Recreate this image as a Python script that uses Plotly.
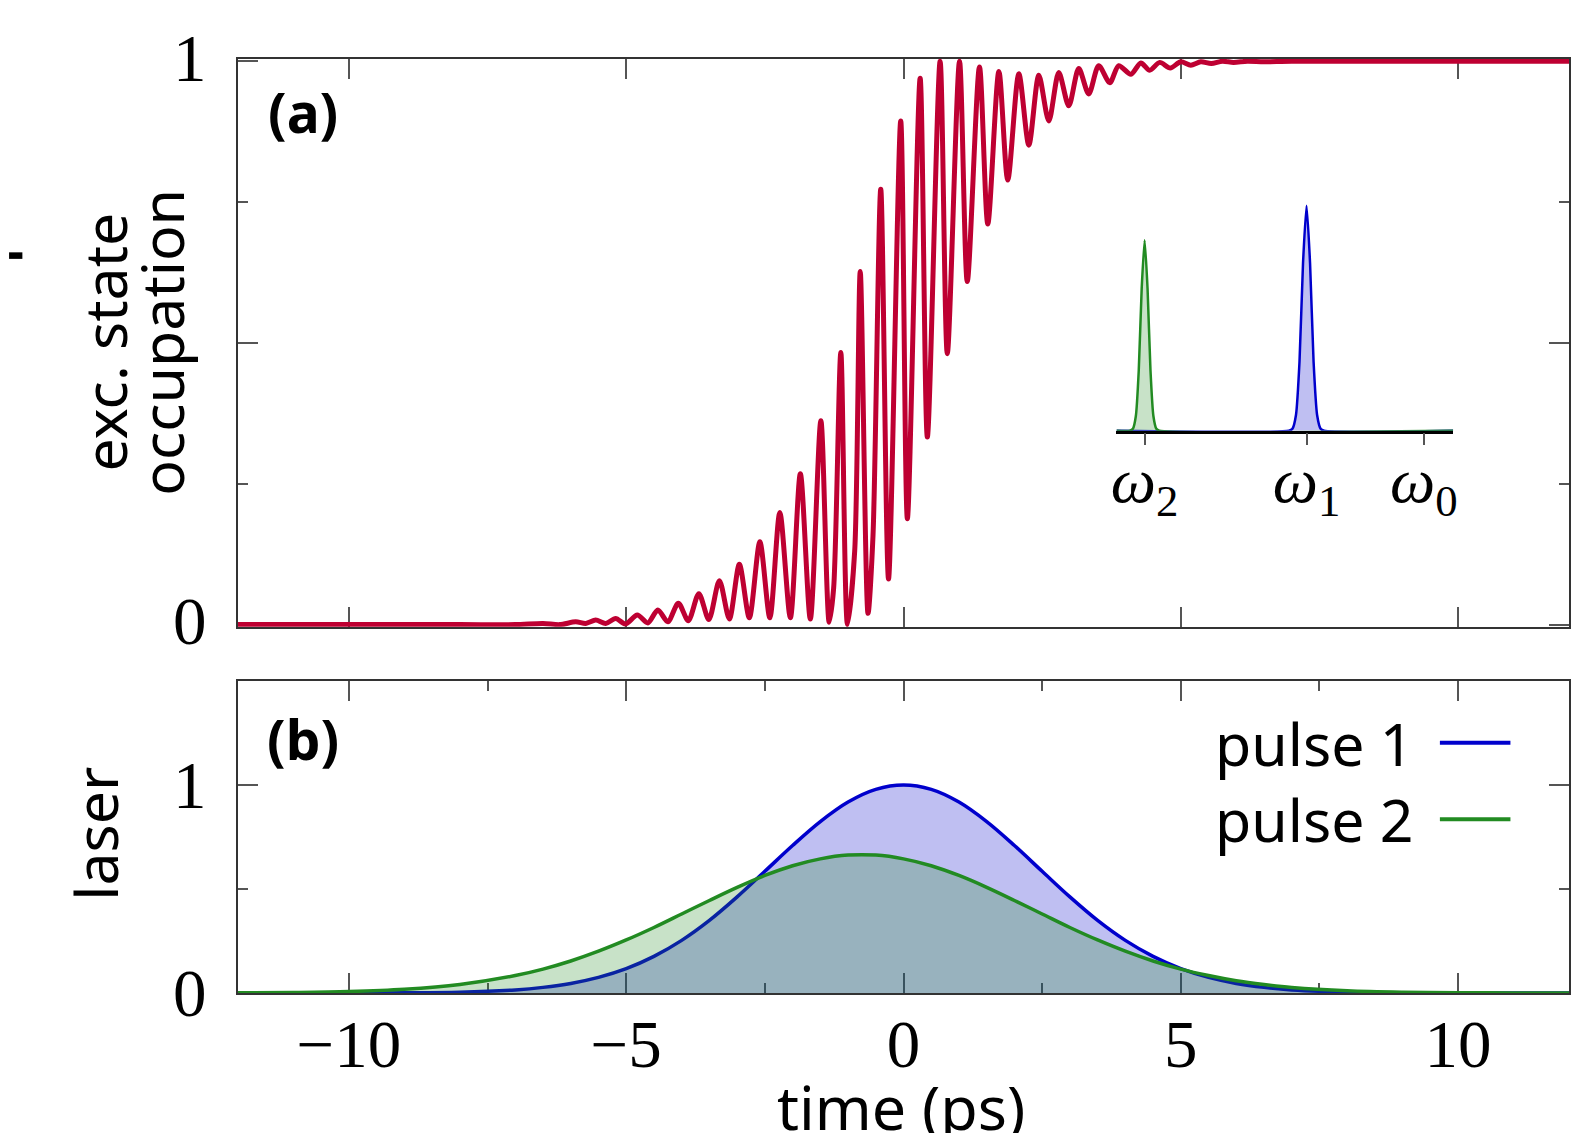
import plotly.graph_objects as go

# ---------------- data ----------------
# panel (a): excited state occupation (peaks / troughs)
occ_t = [-12.0, -8.0, -7.0, -6.5, -6.2, -5.91, -5.73, -5.55, -5.37, -5.19, -5.01,
         -4.80, -4.61, -4.43, -4.25, -4.06, -3.88, -3.69, -3.51, -3.32, -3.14,
         -2.96, -2.78, -2.59, -2.41, -2.23, -2.04, -1.86, -1.68, -1.49, -1.34,
         -1.26, -1.13, -1.01, -0.88, -0.78, -0.64, -0.55, -0.41, -0.27, -0.05,
         0.07, 0.30, 0.43, 0.66, 0.79, 1.01, 1.15, 1.37, 1.52, 1.72, 1.88, 2.08,
         2.26, 2.44, 2.62, 2.80, 2.98, 3.16, 3.34, 3.52, 3.72, 3.88, 4.10, 4.28,
         4.44, 4.62, 4.81, 5.0, 5.18, 5.36, 5.55, 5.75, 5.95, 6.2, 6.5, 7.0, 12.0]
occ_v = [0.0, 0.0, 0.0, 0.002, 0.0, 0.005, 0.002, 0.008, 0.002, 0.011, 0.001,
         0.017, 0.003, 0.026, 0.005, 0.038, 0.007, 0.055, 0.009, 0.078, 0.010,
         0.107, 0.012, 0.147, 0.012, 0.199, 0.012, 0.268, 0.010, 0.362, 0.004,
         0.064, 0.483, 0.0, 0.131, 0.627, 0.020, 0.158, 0.773, 0.081, 0.894,
         0.188, 0.970, 0.333, 1.0, 0.481, 1.0, 0.609, 0.990, 0.711, 0.982, 0.789, 0.978,
         0.851, 0.975, 0.894, 0.980, 0.921, 0.987, 0.942, 0.992, 0.962, 0.992, 0.977, 0.997,
         0.984, 0.998, 0.988, 0.999, 0.993, 0.999, 0.996, 1.0, 0.998, 1.0, 0.999, 1.0, 1.0]

# panel (b): laser pulse envelopes
pulse_t = [-12, -11, -10, -9, -8, -7, -6.5, -6, -5.5, -5, -4.5, -4, -3.5, -3, -2.5, -2, -1.5,
           -1, -0.5, 0, 0.5, 1, 1.5, 2, 2.5, 3, 3.5, 4, 4.5, 5, 5.5, 6, 6.5, 7, 8, 9, 10, 11, 12]
pulse1 = [0.0, 0.0, 0.0002, 0.001, 0.004, 0.015, 0.027, 0.046, 0.075, 0.117, 0.176, 0.253, 0.349,
          0.462, 0.585, 0.709, 0.824, 0.918, 0.979, 1.0, 0.979, 0.918, 0.824, 0.709, 0.585, 0.462,
          0.349, 0.253, 0.176, 0.117, 0.075, 0.046, 0.027, 0.015, 0.004, 0.001, 0.0002, 0.0, 0.0]
pulse2 = [0.0008, 0.0025, 0.007, 0.018, 0.041, 0.084, 0.115, 0.154, 0.201, 0.255, 0.315, 0.380,
          0.445, 0.508, 0.565, 0.612, 0.645, 0.663, 0.663, 0.645, 0.612, 0.565, 0.508, 0.445, 0.380,
          0.315, 0.255, 0.201, 0.154, 0.115, 0.084, 0.059, 0.041, 0.027, 0.011, 0.004, 0.0014, 0.0004, 0.0001]

# inset: spectra (omega in units of omega0 - omega1)
spec2_w = [-2.62, -2.505, -2.48, -2.455, -2.43, -2.405, -2.38, -2.355, -2.33, -2.305, -2.28, -2.255, 0.25]
spec2_v = [0.0, 0.0, 0.008, 0.06, 0.25, 0.59, 0.79, 0.59, 0.25, 0.06, 0.008, 0.0, 0.0]
spec1_w = [-2.62, -1.15, -1.12, -1.09, -1.06, -1.03, -1.0, -0.97, -0.94, -0.91, -0.88, -0.85, 0.25]
spec1_v = [0.0, 0.0, 0.008, 0.065, 0.286, 0.695, 0.934, 0.695, 0.286, 0.065, 0.008, 0.0, 0.0]
inset_ticks = [-2.38, -1.0, 0.0]
inset_labels = ["<i>ω</i><sub>2</sub>", "<i>ω</i><sub>1</sub>", "<i>ω</i><sub>0</sub>"]

x_ticks = [-10, -5, 0, 5, 10]
x_ticklabels = ["\u221210", "\u22125", "0", "5", "10"]
x_minor = [-7.5, -2.5, 2.5, 7.5]

# ---------------- styles ----------------
RED = "#BE0032"
BLUE = "#0000CC"
GREEN = "#228B22"
SERIF = "Liberation Serif"
SANS = "Noto Sans"
AX = "#333333"
TK = "#555555"

fig = go.Figure()

fig.add_trace(go.Scatter(x=occ_t, y=occ_v, mode="lines", line=dict(color=RED, width=5, shape="spline", smoothing=0.8),
                         xaxis="x", yaxis="y", showlegend=False))

fig.add_trace(go.Scatter(x=pulse_t, y=pulse1, mode="lines", fill="tozeroy", fillcolor="rgba(0,0,205,0.25)",
                         line=dict(color=BLUE, width=3.5, shape="spline"), xaxis="x2", yaxis="y2", showlegend=False))
fig.add_trace(go.Scatter(x=pulse_t, y=pulse2, mode="lines", fill="tozeroy", fillcolor="rgba(34,139,34,0.25)",
                         line=dict(color=GREEN, width=3.5, shape="spline"), xaxis="x2", yaxis="y2", showlegend=False))

fig.add_trace(go.Scatter(x=spec1_w, y=spec1_v, mode="lines", fill="tozeroy", fillcolor="rgba(0,0,205,0.25)",
                         line=dict(color=BLUE, width=2.5, shape="spline", smoothing=0.6), xaxis="x3", yaxis="y3", showlegend=False))
fig.add_trace(go.Scatter(x=spec2_w, y=spec2_v, mode="lines", fill="tozeroy", fillcolor="rgba(34,139,34,0.25)",
                         line=dict(color=GREEN, width=2.5, shape="spline", smoothing=0.6), xaxis="x3", yaxis="y3", showlegend=False))

tickfont = dict(family=SERIF, size=67, color="black")

fig.update_layout(
    width=1590, height=1133,
    margin=dict(l=230, r=29, t=51, b=148),
    paper_bgcolor="white", plot_bgcolor="white",
    xaxis=dict(domain=[0, 1], range=[-12, 12], anchor="y", tickvals=x_ticks, showticklabels=False,
               ticks="inside", ticklen=20, tickcolor=TK, tickwidth=1.5,
               showline=True, linecolor=AX, linewidth=2, mirror="ticks", showgrid=False, zeroline=False,
               layer="below traces"),
    yaxis=dict(domain=[0.392, 1.0], range=[-0.004, 1.004], anchor="x", tickvals=[0, 0.5, 1], ticktext=["0", "", "1"],
               ticks="inside", ticklen=20, tickcolor=TK, tickwidth=1.5,
               minor=dict(tickvals=[0.25, 0.75], ticks="inside", ticklen=10, tickcolor=TK, tickwidth=1.5),
               showline=True, linecolor=AX, linewidth=2, mirror="ticks", showgrid=False, zeroline=False,
               tickfont=tickfont, ticklabelstandoff=16, ticklabelshift=-4, layer="below traces"),
    xaxis2=dict(domain=[0, 1], range=[-12, 12], anchor="y2", tickvals=x_ticks, ticktext=x_ticklabels,
                ticks="inside", ticklen=20, tickcolor=TK, tickwidth=1.5,
                minor=dict(tickvals=x_minor, ticks="inside", ticklen=10, tickcolor=TK, tickwidth=1.5),
                showline=True, linecolor=AX, linewidth=2, mirror="ticks", showgrid=False, zeroline=False,
                tickfont=tickfont, ticklabelstandoff=-8, layer="below traces"),
    yaxis2=dict(domain=[0, 0.334], range=[0, 1.5], anchor="x2", tickvals=[0, 1], ticktext=["0", "1"],
                ticks="inside", ticklen=20, tickcolor=TK, tickwidth=1.5,
                minor=dict(tickvals=[0.5], ticks="inside", ticklen=10, tickcolor=TK, tickwidth=1.5),
                showline=True, linecolor=AX, linewidth=2, mirror="ticks", showgrid=False, zeroline=False,
                tickfont=tickfont, ticklabelstandoff=16, layer="below traces"),
    xaxis3=dict(domain=[0.660, 0.913], range=[-2.62, 0.25], anchor="y3", tickvals=inset_ticks, ticktext=inset_labels,
                ticks="outside", ticklen=12, tickcolor=TK, tickwidth=1.5,
                showline=True, linecolor="black", linewidth=2.5, showgrid=False, zeroline=False,
                tickfont=dict(family=SERIF, size=64, color="black"), ticklabelstandoff=-20, layer="below traces"),
    yaxis3=dict(domain=[0.602, 0.860], range=[0, 1], anchor="x3", visible=False),
)

ann_font = dict(family=SANS, size=59, color="black")
annotations = [
    dict(text="exc. state", x=-0.101, y=0.697, xref="paper", yref="paper", textangle=-90,
         showarrow=False, font=ann_font, xanchor="center", yanchor="middle"),
    dict(text="occupation", x=-0.058, y=0.697, xref="paper", yref="paper", textangle=-90,
         showarrow=False, font=ann_font, xanchor="center", yanchor="middle"),
    dict(text="laser", x=-0.107, y=0.170, xref="paper", yref="paper", textangle=-90,
         showarrow=False, font=ann_font, xanchor="center", yanchor="middle"),
    dict(text="time (ps)", x=0.498, y=-0.121, xref="paper", yref="paper",
         showarrow=False, font=dict(family=SANS, size=61, color="black"), xanchor="center", yanchor="middle"),
    dict(text="<b>(a)</b>", x=0.049, y=0.944, xref="paper", yref="paper",
         showarrow=False, font=dict(family=SANS, size=55, color="black"), xanchor="center", yanchor="middle"),
    dict(text="<b>(b)</b>", x=0.049, y=0.272, xref="paper", yref="paper",
         showarrow=False, font=dict(family=SANS, size=55, color="black"), xanchor="center", yanchor="middle"),
    dict(text="pulse 1", x=0.885, y=0.268, xref="paper", yref="paper",
         showarrow=False, font=ann_font, xanchor="right", yanchor="middle"),
    dict(text="pulse 2", x=0.885, y=0.186, xref="paper", yref="paper",
         showarrow=False, font=ann_font, xanchor="right", yanchor="middle"),
]
fig.update_layout(annotations=annotations)

shapes = [
    dict(type="line", xref="paper", yref="paper", x0=0.903, x1=0.956, y0=0.268, y1=0.268,
         line=dict(color=BLUE, width=4)),
    dict(type="line", xref="paper", yref="paper", x0=0.903, x1=0.956, y0=0.186, y1=0.186,
         line=dict(color=GREEN, width=4)),
    dict(type="rect", xref="paper", yref="paper", x0=-0.172, x1=-0.162, y0=0.786, y1=0.793,
         line=dict(width=0), fillcolor="black"),
]
fig.update_layout(shapes=shapes)

fig.write_html("out.html")
